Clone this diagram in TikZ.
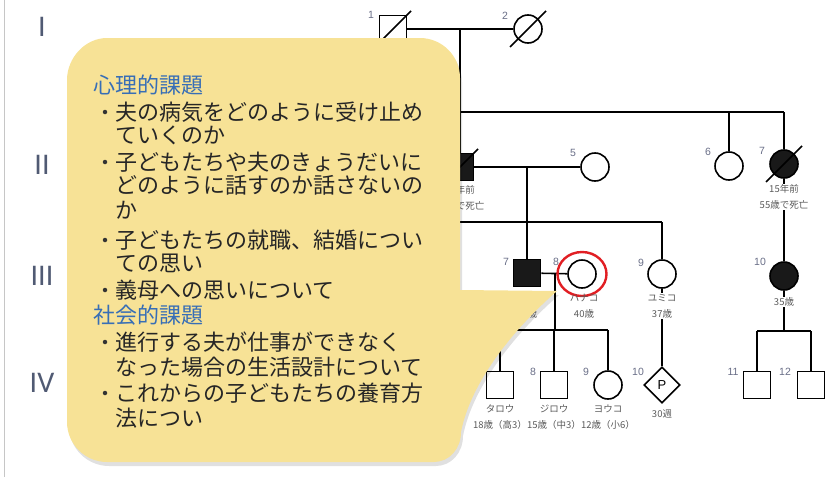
\documentclass[tikz,border=0pt]{standalone}
\usepackage{fontspec}
\setmainfont{Liberation Sans}
\newfontfamily\jpfont{Noto Sans CJK JP}
\newfontfamily\genfont{Carlito}
\usetikzlibrary{shapes.geometric}

\definecolor{genblue}{RGB}{80,90,115}
\definecolor{numgray}{RGB}{105,110,135}
\definecolor{headblue}{RGB}{55,110,182}
\definecolor{bubblefill}{RGB}{247,226,150}
\definecolor{ringred}{RGB}{225,30,35}

\begin{document}
\begin{tikzpicture}[
  x=1pt, y=-1pt,
  ped/.style={draw, line width=1.6pt, inner sep=0pt},
  male/.style={ped, rectangle, minimum size=27pt},
  female/.style={ped, circle, minimum size=28pt},
  unknown/.style={ped, diamond, minimum size=36pt, font=\fontsize{13}{13}\selectfont},
  affected/.style={fill=black!90},
  link/.style={line width=1.6pt},
  num/.style={font=\fontsize{10.5}{10.5}\selectfont, text=numgray, inner sep=0pt},
  info/.style={font=\jpfont\fontsize{9.5}{16}\selectfont, text=black!65, align=center, inner sep=1pt},
  mask/.style={info, fill=white},
  gen/.style={font=\genfont\fontsize{30}{30}\selectfont, text=genblue, inner sep=0pt},
  head/.style={font=\jpfont\fontsize{22}{22}\selectfont, text=headblue, anchor=west, inner sep=0pt},
  body/.style={font=\jpfont\fontsize{22}{22}\selectfont, text=black!85, anchor=west, inner sep=0pt},
  dot/.style={circle, fill=black!80, minimum size=4.5pt, inner sep=0pt}
]
\useasboundingbox (0,0) rectangle (830,477);
\def\slash#1{\draw[link] ([shift={(-18,18)}]#1.center) -- ([shift={(18,-18)}]#1.center);}

\draw[gray!45, line width=0.8pt] (4,0) -- (4,477);

% --- generations ---
\foreach \g/\y [count=\i] in {I/27,II/165,III/276,IV/383}
  \node[gen] (gen\i) at (42,\y) {\g};

% --- I ---
\node[male] (i1) at (393,29) {};
\node[female] (i2) at (528,29) {};
\draw[link] (i1) -- (i2);
\slash{i1}
\slash{i2}
\coordinate (m1) at (460,29);
\coordinate (s2a) at (300,112);
\coordinate (s2b) at (784,112);
\draw[link] (m1) -- (m1 |- s2a);
\draw[link] (s2a) -- (s2b);

% --- II ---
\node[male, affected] (ii4) at (460,167) {};
\node[female] (ii5) at (595,167) {};
\node[female] (ii6) at (729,166) {};
\node[female, affected] (ii7) at (784,164) {};
\draw[link] (ii4) -- (ii5);
\draw[link] (ii4) -- (ii4 |- s2a);
\draw[link] (ii6) -- (ii6 |- s2a);
\draw[link] (ii7) -- (s2b);
\slash{ii4}
\slash{ii7}

% --- III ---
\coordinate (m2) at (527,167);
\coordinate (s3a) at (400,222);
\coordinate (s3b) at (662,222);
\draw[link] (m2) -- (m2 |- s3a);
\draw[link] (s3a) -- (s3b);

\node[male, affected] (iii7) at (527,273) {};
\node[female] (iii8) at (582,274) {};
\node[female] (iii9) at (662,274) {};
\node[female, affected] (iii10) at (784,276) {};
\draw[link] (iii7) -- (iii7 |- s3a);
\draw[link] (iii7) -- (iii8);
\draw[link] (iii9) -- (s3b);
\draw[link] (ii7) -- (iii10);
\node[draw=ringred, line width=2.4pt, ellipse, minimum width=49pt, minimum height=44pt] (ring) at (iii8) {};

% --- IV ---
\coordinate (m3) at (555,274);
\coordinate (s4a) at (470,330);
\coordinate (s4b) at (608,330);
\draw[link] (m3) -- (m3 |- s4a);
\draw[link] (s4a) -- (s4b);

\node[male] (iv7) at (500,385) {};
\node[male] (iv8) at (554,385) {};
\node[female] (iv9) at (608,385) {};
\node[unknown] (iv10) at (662,385) {P};
\node[male] (iv11) at (757,385) {};
\node[male] (iv12) at (811,385) {};
\foreach \n in {iv7,iv8,iv9}
  \draw[link] (\n) -- (\n |- s4a);
\draw[link] (iii9) -- (iv10);

\coordinate (s5a) at (757,331);
\coordinate (s5b) at (811,331);
\draw[link] (s5a) -- (s5b);
\draw[link] (iii10) -- (iii10 |- s5a);
\foreach \n in {iv11,iv12}
  \draw[link] (\n) -- (\n |- s5a);

% --- numbers ---
\foreach \n/\t/\x/\y in {i1/1/371/15, i2/2/505/16, ii5/5/573/153, ii6/6/708/152, ii7/7/762/151,
    iii7/7/506/262, iii8/8/556/262, iii9/9/641/263, iii10/10/760/262,
    iv7/7/478/372, iv8/8/533/372, iv9/9/586/372, iv10/10/638/372, iv11/11/733/372, iv12/12/785/372}
  \node[num] (n-\n) at (\x,\y) {\t};

% --- texts ---
\node[info] (t-ii4) at (460,198) {10年前\\58歳で死亡};
\node[mask] (t-ii7) at (784,197) {15年前\\55歳で死亡};
\node[info] (t-iii7) at (527,314) {45歳};
\node[info] (t-iii8) at (584,306) {ハナコ\\40歳};
\node[mask] (t-iii9) at (662,306) {ユミコ\\37歳};
\node[mask] (t-iii10) at (784,302) {35歳};
\node[info] (t-iv7) at (500,417) {タロウ\\18歳（高3）};
\node[info] (t-iv8) at (554,417) {ジロウ\\15歳（中3）};
\node[info] (t-iv9) at (608,417) {ヨウコ\\12歳（小6）};
\node[info] (t-iv10) at (662,414) {30週};

% --- callout ---
\def\bubble{(67,80) .. controls (67,58) and (85,38) .. (107,38)
  -- (420,38) .. controls (442,38) and (460,56) .. (460,78)
  -- (460,290) -- (557,291)
  .. controls (510,332) and (470,385) .. (461,432)
  .. controls (461,449) and (449,462) .. (434,462)
  -- (107,462) .. controls (85,462) and (67,444) .. (67,422) -- cycle}
\fill[black, opacity=0.12, shift={(2,4)}] \bubble;
\fill[bubblefill] \bubble;

\node[head] (h1) at (93,85) {心理的課題};
\node[head] (h2) at (93,315) {社会的課題};
\foreach \y/\t [count=\i] in {112/夫の病気をどのように受け止め, 135/ていくのか,
    162/子どもたちや夫のきょうだいに, 185/どのように話すのか話さないの, 210/か,
    240/子どもたちの就職、結婚につい, 263/ての思い, 290/義母への思いについて,
    342/進行する夫が仕事ができなく, 367/なった場合の生活設計について,
    393/これからの子どもたちの養育方, 418/法につい}
  \node[body] (l\i) at (115,\y) {\t};
\foreach \y [count=\i] in {112,162,240,290,342,393}
  \node[dot] (b\i) at (105,\y) {};

\end{tikzpicture}
\end{document}
